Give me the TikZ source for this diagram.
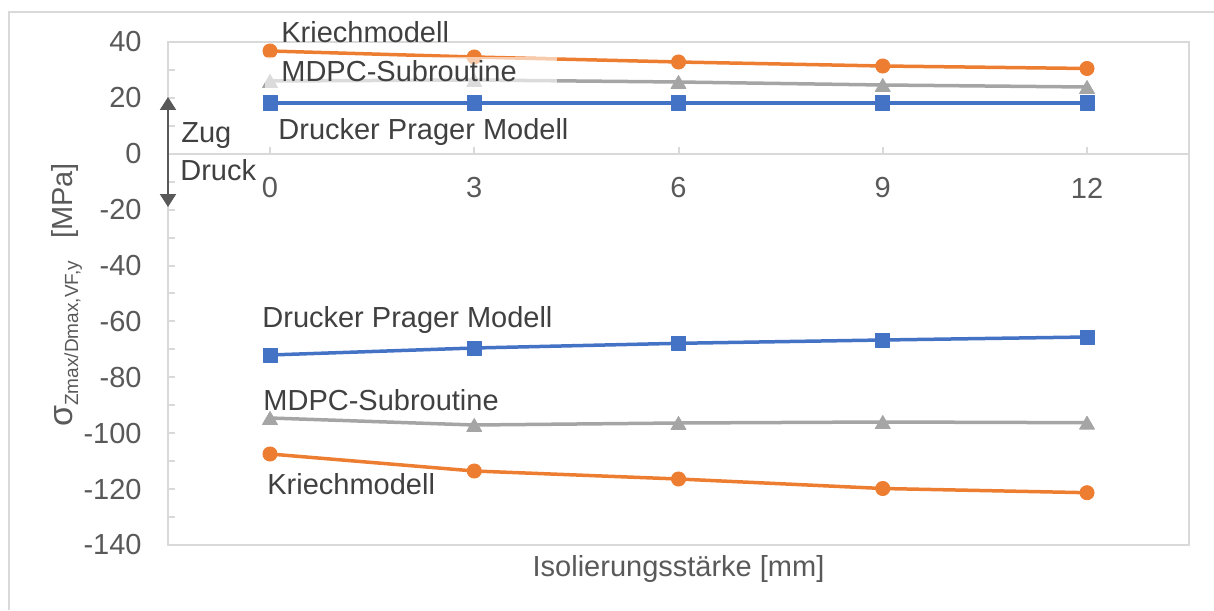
\documentclass[tikz,border=0pt]{standalone}
\usepackage{fontspec}
\setmainfont{Liberation Sans}
\usetikzlibrary{arrows.meta,plotmarks}
\definecolor{gridgray}{HTML}{D9D9D9}
\definecolor{ticktext}{HTML}{595959}
\definecolor{labeltext}{HTML}{404040}
\definecolor{sorange}{HTML}{ED7D31}
\definecolor{sgray}{HTML}{A5A5A5}
\definecolor{sblue}{HTML}{4472C4}
\begin{document}
\begin{tikzpicture}[x=0.5pt,y=-0.5pt,
  outerframe/.style={draw=gridgray,line width=0.75pt},
  axisline/.style={draw=gridgray,line width=1pt},
  ticklbl/.style={text=ticktext,font=\fontsize{14.5}{17}\selectfont,inner sep=0pt},
  serieslbl/.style={text=labeltext,font=\fontsize{14.5}{17}\selectfont,inner sep=0pt,anchor=base west},
  kriech/.style={draw=sorange,line width=1.75pt,line join=round,mark=*,mark size=3.55pt,
    mark options={fill=sorange,draw=sorange,line width=0.4pt}},
  mdpc/.style={draw=sgray,line width=1.75pt,line join=round,mark=triangle*,mark size=4.3pt,
    mark options={fill=sgray,draw=sgray,line width=0.4pt,yshift=-1.05pt}},
  dprager/.style={draw=sblue,line width=1.75pt,line join=round,mark=square*,mark size=3.55pt,
    mark options={fill=sblue,draw=sblue,line width=0.4pt}},
  zugdruck/.style={draw=ticktext,line width=1pt,{Triangle[width=8pt,length=6.5pt]}-{Triangle[width=8pt,length=6.5pt]}}
]
\useasboundingbox (0,0) rectangle (1214,610);

% outer chart frame
\draw[outerframe] (9,610) -- (9,12) -- (1214,12);

% plot area border and axes
\draw[axisline] (168,42) rectangle (1189,545);
\draw[axisline] (168,153.8) -- (1189,153.8);

% minor ticks on the value axis (every 10 MPa)
\foreach \k in {0,...,18}
  \draw[axisline] (168,{42+\k*27.944}) -- (175,{42+\k*27.944});

% category ticks
\foreach \xx in {270,474.25,678.5,882.75,1087}
  \draw[axisline] (\xx,153.8) -- (\xx,147);

% value axis labels
\foreach \v [count=\k from 0] in {40,20,0,-20,-40,-60,-80,-100,-120,-140}
  \node[ticklbl,anchor=east] (ylab\k) at (142,{42+\k*55.889}) {\v};

% category labels
\foreach \xx/\t in {270/0,474.25/3,678.5/6,882.75/9,1087/12}
  \node[ticklbl] (xlab\t) at (\xx,188) {\t};

% axis titles
\node[ticklbl,anchor=base] (xtitle) at (678.5,576) {Isolierungsstärke [mm]};
\node[ticklbl,rotate=90,anchor=base west] (ytitle) at (72,427)
  {{\fontsize{17}{17}\selectfont σ}\raisebox{-3pt}{\fontsize{9.5}{10}\selectfont Zmax/Dmax,VF,y}\hspace{11pt}[MPa]};

% tension side (upper group)
\draw[kriech] plot coordinates {(270,51) (474.25,57) (678.5,62) (882.75,66) (1087,68.5)};
\draw[mdpc] plot coordinates {(270,81) (474.25,80) (678.5,82) (882.75,85) (1087,87)};
\draw[dprager] plot coordinates {(270,103) (474.25,103) (678.5,103) (882.75,103) (1087,103)};

% compression side (lower group)
\draw[dprager] plot coordinates {(270,355) (474.25,348) (678.5,343.3) (882.75,340) (1087,337)};
\draw[mdpc] plot coordinates {(270,418) (474.25,425) (678.5,423) (882.75,422) (1087,422.7)};
\draw[kriech] plot coordinates {(270,454) (474.25,471) (678.5,479) (882.75,488.5) (1087,492.7)};

% translucent label background over the upper curves
\fill[white,fill opacity=0.6] (265,57) rectangle (557,92);

% series labels
\node[serieslbl] (lkriechtop) at (281,43) {Kriechmodell};
\node[serieslbl] (lmdpctop) at (281,82) {MDPC-Subroutine};
\node[serieslbl] (ldptop) at (278,140) {Drucker Prager Modell};
\node[serieslbl] (ldpbot) at (262,327) {Drucker Prager Modell};
\node[serieslbl] (lmdpcbot) at (263,410) {MDPC-Subroutine};
\node[serieslbl] (lkriechbot) at (267,494) {Kriechmodell};

% tension / compression indicator
\coordinate (zugtip) at (168,97);
\coordinate (drucktip) at (168,207);
\draw[zugdruck] (zugtip) -- (drucktip);
\node[serieslbl] (zug) at (181,142) {Zug};
\node[serieslbl] (druck) at (180,180) {Druck};
\end{tikzpicture}
\end{document}
